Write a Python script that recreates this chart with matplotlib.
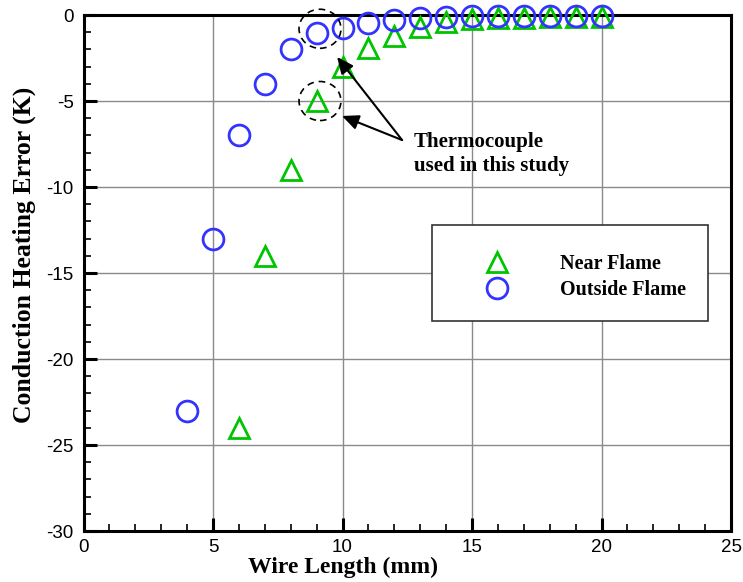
import numpy as np
import matplotlib.pyplot as plt
from matplotlib.patches import Ellipse, Rectangle
from matplotlib.ticker import MultipleLocator

plt.rcParams['axes.unicode_minus'] = False

# wire length (mm) and conduction heating error (K)
near_x = [6, 7, 8, 9, 10, 11, 12, 13, 14, 15, 16, 17, 18, 19, 20]
near_y = [-24, -14, -9, -5, -3, -1.9, -1.2, -0.7, -0.4, -0.25, -0.18, -0.15, -0.12, -0.1, -0.1]
out_x = [4, 5, 6, 7, 8, 9, 10, 11, 12, 13, 14, 15, 16, 17, 18, 19, 20]
out_y = [-23, -13, -7, -4, -2, -1.05, -0.75, -0.45, -0.3, -0.2, -0.12, -0.08, -0.06, -0.05, -0.05, -0.05, -0.05]

serif = 'Liberation Serif'
sans = 'Liberation Sans'

fig = plt.figure(figsize=(7.43, 5.82), dpi=100)
ax = fig.add_axes([0.1124, 0.0876, 0.8715, 0.8866])

ax.set_xlim(0, 25)
ax.set_ylim(-30, 0)
ax.xaxis.set_major_locator(MultipleLocator(5))
ax.xaxis.set_minor_locator(MultipleLocator(1))
ax.yaxis.set_major_locator(MultipleLocator(5))
ax.yaxis.set_minor_locator(MultipleLocator(1))
ax.grid(True, which='major', color='#8a8a8a', lw=1.0)
ax.set_axisbelow(True)

ax.tick_params(which='both', direction='in', top=False, right=False, labelsize=13.5)
ax.tick_params(which='major', length=9.5, width=2.2)
ax.tick_params(which='minor', length=5, width=1.2)
ax.tick_params(axis='x', which='major', pad=6)
ax.tick_params(axis='y', which='major', pad=7)
for lab in ax.get_xticklabels() + ax.get_yticklabels():
    lab.set_family(sans)
for s in ax.spines.values():
    s.set_linewidth(2.2)

ax.plot(near_x, near_y, ls='none', marker='^', ms=14, mfc='none', mec='#00c400', mew=2,
        clip_on=False, label='Near Flame', zorder=3)
ax.plot(out_x, out_y, ls='none', marker='o', ms=15, mfc='none', mec='#3333ff', mew=2,
        clip_on=False, label='Outside Flame', zorder=3)

for cy in (-0.8, -5.0):
    ax.add_patch(Ellipse((9.13, cy), 1.62, 2.27, fill=False, ls=(0, (4, 3)), lw=1.2,
                         ec='black', clip_on=False, zorder=4))

tail = (12.3, -7.27)
for tip in ((9.79, -2.44), (9.98, -5.87)):
    ax.annotate('', xy=tip, xytext=tail,
                arrowprops=dict(arrowstyle='-|>,head_length=1.0,head_width=0.45',
                                color='black', lw=1.5, shrinkA=0, shrinkB=0))
ax.text(12.76, -8.1, 'Thermocouple\nused in this study', ha='left', va='center',
        family=serif, fontweight='bold', fontsize=15, linespacing=1.25)

# legend box
ax.add_patch(Rectangle((0.538, 0.407), 0.4265, 0.186, transform=ax.transAxes,
                       fill=True, fc='white', ec='#333333', lw=1.2, zorder=5))
leg = ax.legend(loc='center left', bbox_to_anchor=(0.605, 0.492), frameon=False,
                prop=dict(family=serif, weight='bold', size=14.5), handlelength=1.2,
                handletextpad=2.5, labelspacing=0.3, borderpad=0)
leg.set_zorder(6)

ax.set_xlabel('Wire Length (mm)', family=serif, fontweight='bold', fontsize=17)
ax.set_ylabel('Conduction Heating Error (K)', family=serif, fontweight='bold', fontsize=18.5)
ax.xaxis.set_label_coords(0.40, -0.05)
ax.yaxis.set_label_coords(-0.073, 0.535)

fig.savefig('out.png', dpi=100)
